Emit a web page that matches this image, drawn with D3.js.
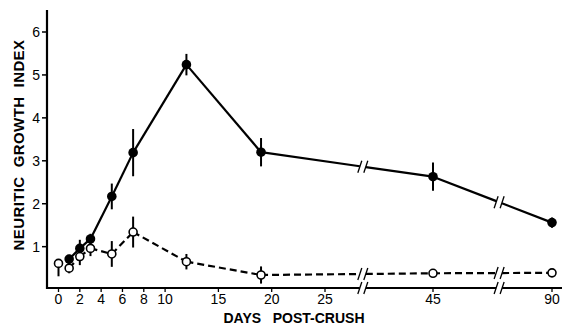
<!DOCTYPE html>
<html>
<head>
<meta charset="utf-8">
<script src="https://cdn.jsdelivr.net/npm/d3@7"></script>
<style>
  body { margin: 0; background: #fff; }
  text { font-family: "Liberation Sans", Arial, sans-serif; fill: #000; white-space: pre; }
</style>
</head>
<body>
<svg id="chart"></svg>
<script>
// days post-crush
var crushedDays = [1, 2, 3, 5, 7, 12, 19, 45, 90];
var crushedIndex = [0.71, 0.96, 1.18, 2.17, 3.19, 5.24, 3.2, 2.63, 1.56];
var crushedErr = [0.1, 0.2, 0.12, 0.3, 0.55, 0.25, 0.33, 0.33, 0.12];

var controlDays = [0, 1, 2, 3, 5, 7, 12, 19, 45, 90];
var controlIndex = [0.61, 0.5, 0.77, 0.96, 0.83, 1.34, 0.65, 0.34, 0.38, 0.39];
var controlErrUp = [0, 0.12, 0.2, 0.18, 0.3, 0.36, 0.18, 0.2, 0.08, 0.08];
var controlErrDown = [0.3, 0.12, 0.2, 0.18, 0.3, 0.36, 0.18, 0.2, 0.08, 0.08];

var xTicks = [0, 2, 4, 6, 8, 10, 15, 20, 25, 45, 90];
var yTicks = [1, 2, 3, 4, 5, 6];
var axisBreaks = [32, 70];

var width = 566, height = 325;
var svg = d3.select("#chart").attr("width", width).attr("height", height);

// broken time axis: 0-25 linear, then 45 and 90 squeezed in
var x = d3.scaleLinear().domain([0, 25, 45, 90]).range([58.5, 325, 433, 552]);
var y = d3.scaleLinear().domain([0, 6]).range([289.6, 32]);

var axisX = 47, axisY = 288;

// y axis
svg.append("line")
    .attr("x1", axisX).attr("x2", axisX)
    .attr("y1", 10).attr("y2", axisY + 1)
    .attr("stroke", "#000").attr("stroke-width", 2.2);

svg.append("g").selectAll("line")
    .data(yTicks).enter().append("line")
    .attr("x1", axisX - 5).attr("x2", axisX)
    .attr("y1", function(d) { return y(d); })
    .attr("y2", function(d) { return y(d); })
    .attr("stroke", "#000").attr("stroke-width", 1.5);

svg.append("g").selectAll("text")
    .data(yTicks).enter().append("text")
    .attr("x", 40)
    .attr("y", function(d) { return y(d) + 5; })
    .attr("text-anchor", "end")
    .attr("font-size", 14)
    .text(function(d) { return d; });

// x axis, drawn in pieces around the breaks
var breakPx = axisBreaks.map(function(d) { return x(d); });
var segs = [[axisX, breakPx[0] - 3], [breakPx[0] + 3, breakPx[1] - 3], [breakPx[1] + 3, 562]];
svg.append("g").selectAll("line")
    .data(segs).enter().append("line")
    .attr("x1", function(d) { return d[0]; })
    .attr("x2", function(d) { return d[1]; })
    .attr("y1", axisY).attr("y2", axisY)
    .attr("stroke", "#000").attr("stroke-width", 2.2);

svg.append("g").selectAll("line")
    .data(xTicks).enter().append("line")
    .attr("x1", function(d) { return x(d); })
    .attr("x2", function(d) { return x(d); })
    .attr("y1", axisY).attr("y2", axisY + 4)
    .attr("stroke", "#000").attr("stroke-width", 1.3);

svg.append("g").selectAll("text")
    .data(xTicks).enter().append("text")
    .attr("x", function(d) { return x(d); })
    .attr("y", 304)
    .attr("text-anchor", "middle")
    .attr("font-size", 14)
    .text(function(d) { return d; });

// axis titles
svg.append("text")
    .attr("x", 294).attr("y", 323)
    .attr("text-anchor", "middle")
    .attr("font-size", 14)
    .attr("font-weight", "bold")
    .text("DAYS   POST-CRUSH");

svg.append("text")
    .attr("transform", "translate(24,145) rotate(-90)")
    .attr("text-anchor", "middle")
    .attr("font-size", 15)
    .attr("font-weight", "bold")
    .attr("letter-spacing", 0.4)
    .text("NEURITIC  GROWTH  INDEX");

// slashes through the axis at the breaks
function drawSlashes(px, py) {
    [-3, 3].forEach(function(off) {
        svg.append("line")
            .attr("x1", px + off - 2).attr("y1", py + 6)
            .attr("x2", px + off + 2).attr("y2", py - 6)
            .attr("stroke", "#000").attr("stroke-width", 1.3);
    });
}
breakPx.forEach(function(px) { drawSlashes(px, axisY); });

function series(days, vals, dashed) {
    var pts = days.map(function(d, i) { return [x(d), y(vals[i]), d]; });
    var line = d3.line();
    // split the path at the breaks
    var pieces = [];
    for (var i = 0; i < pts.length - 1; i++) {
        var a = pts[i], b = pts[i + 1];
        var cut = axisBreaks.filter(function(k) { return k > a[2] && k < b[2]; });
        if (cut.length) {
            var bx = x(cut[0]);
            var sl = (b[1] - a[1]) / (b[0] - a[0]);
            var by = a[1] + (bx - a[0]) * sl;
            var dx = 3 / Math.sqrt(1 + sl * sl);
            pieces.push([[a[0], a[1]], [bx - dx, by - dx * sl]]);
            pieces.push([[bx + dx, by + dx * sl], [b[0], b[1]]]);
            drawSlashes(bx, by);
        } else {
            pieces.push([[a[0], a[1]], [b[0], b[1]]]);
        }
    }
    svg.append("g").selectAll("path")
        .data(pieces).enter().append("path")
        .attr("d", line)
        .attr("fill", "none")
        .attr("stroke", "#000")
        .attr("stroke-width", 2.2)
        .attr("stroke-dasharray", dashed ? "7,4" : null);
}

series(crushedDays, crushedIndex, false);
series(controlDays.slice(1), controlIndex.slice(1), true);

// error bars
svg.append("g").selectAll("line")
    .data(crushedDays).enter().append("line")
    .attr("x1", function(d) { return x(d); })
    .attr("x2", function(d) { return x(d); })
    .attr("y1", function(d, i) { return y(crushedIndex[i] + crushedErr[i]); })
    .attr("y2", function(d, i) { return y(crushedIndex[i] - crushedErr[i]); })
    .attr("stroke", "#000").attr("stroke-width", 2);

svg.append("g").selectAll("line")
    .data(controlDays).enter().append("line")
    .attr("x1", function(d) { return x(d); })
    .attr("x2", function(d) { return x(d); })
    .attr("y1", function(d, i) { return y(controlIndex[i] + controlErrUp[i]); })
    .attr("y2", function(d, i) { return y(controlIndex[i] - controlErrDown[i]); })
    .attr("stroke", "#000").attr("stroke-width", 2);

// markers
svg.append("g").selectAll("circle")
    .data(controlDays).enter().append("circle")
    .attr("cx", function(d) { return x(d); })
    .attr("cy", function(d, i) { return y(controlIndex[i]); })
    .attr("r", 4)
    .attr("fill", "#fff")
    .attr("stroke", "#000").attr("stroke-width", 1.6);

svg.append("g").selectAll("circle")
    .data(crushedDays).enter().append("circle")
    .attr("cx", function(d) { return x(d); })
    .attr("cy", function(d, i) { return y(crushedIndex[i]); })
    .attr("r", 4.8)
    .attr("fill", "#000");
</script>
</body>
</html>
